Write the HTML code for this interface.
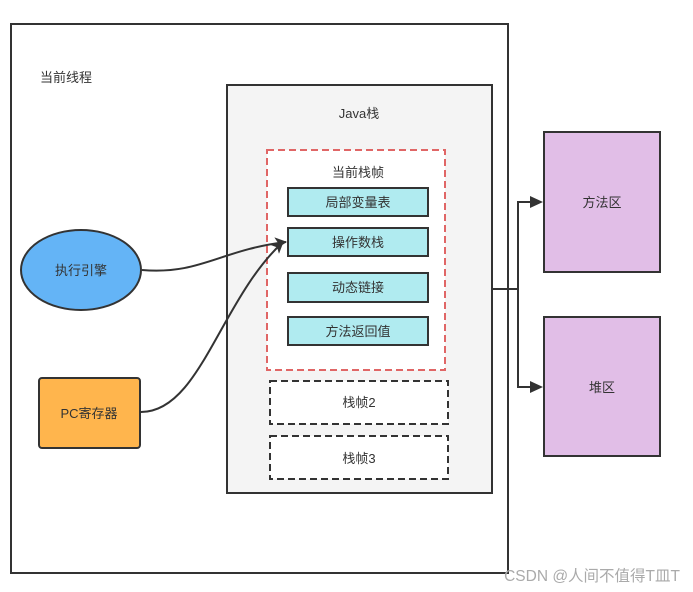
<!DOCTYPE html>
<html><head><meta charset="utf-8"><style>body{margin:0;background:#fff}svg{display:block}text{font-family:"Liberation Sans","Noto Sans CJK SC",sans-serif;font-size:13px;fill:#333}</style></head><body>
<svg width="693" height="592" viewBox="0 0 693 592" xmlns="http://www.w3.org/2000/svg">
<defs><marker id="a" markerWidth="12" markerHeight="12" refX="11" refY="6" orient="auto" markerUnits="userSpaceOnUse"><path d="M0,0 L12,6 L0,12 L3,6 Z" fill="#333"/></marker></defs>
<rect x="11" y="24" width="497" height="549" fill="#fff" stroke="#333" stroke-width="2"/>
<text x="40" y="82">当前线程</text>
<rect x="227" y="85" width="265" height="408" fill="#f4f4f4" stroke="#333" stroke-width="2"/>
<text x="359" y="118" text-anchor="middle">Java栈</text>
<rect x="267" y="150" width="178" height="220" fill="#fff" stroke="#e06666" stroke-width="2" stroke-dasharray="7,4"/>
<text x="358" y="177" text-anchor="middle">当前栈帧</text>
<g fill="#b0ebf0" stroke="#333" stroke-width="2">
<rect x="288" y="188" width="140" height="28"/><rect x="288" y="228" width="140" height="28"/>
<rect x="288" y="273" width="140" height="29"/><rect x="288" y="317" width="140" height="28"/></g>
<text x="358" y="207" text-anchor="middle">局部变量表</text>
<text x="358" y="247" text-anchor="middle">操作数栈</text>
<text x="358" y="292" text-anchor="middle">动态链接</text>
<text x="358" y="336" text-anchor="middle">方法返回值</text>
<g fill="#fff" stroke="#333" stroke-width="2" stroke-dasharray="7,4">
<rect x="270" y="381" width="178" height="43"/><rect x="270" y="436" width="178" height="43"/></g>
<text x="359" y="407" text-anchor="middle">栈帧2</text>
<text x="359" y="463" text-anchor="middle">栈帧3</text>
<ellipse cx="81" cy="270" rx="60" ry="40" fill="#64b4f6" stroke="#333" stroke-width="2"/>
<text x="81" y="275" text-anchor="middle">执行引擎</text>
<rect x="39" y="378" width="101" height="70" rx="3" fill="#ffb54d" stroke="#333" stroke-width="2"/>
<text x="89" y="418" text-anchor="middle">PC寄存器</text>
<path d="M142,270 C200,275 220,250 286,242" fill="none" stroke="#333" stroke-width="2" marker-end="url(#a)"/>
<path d="M141,412 C200,412 220,300 283,242" fill="none" stroke="#333" stroke-width="2" marker-end="url(#a)"/>
<rect x="544" y="132" width="116" height="140" fill="#e1bee7" stroke="#333" stroke-width="2"/>
<rect x="544" y="317" width="116" height="139" fill="#e1bee7" stroke="#333" stroke-width="2"/>
<text x="602" y="207" text-anchor="middle">方法区</text>
<text x="602" y="392" text-anchor="middle">堆区</text>
<path d="M493,289 H518 V202 H540 M518,289 V387 H540" fill="none" stroke="#333" stroke-width="2"/>
<path d="M530,196 L543,202 L530,208 Z M530,381 L543,387 L530,393 Z" fill="#333"/>
<text x="680" y="581" text-anchor="end" style="font-size:15.5px;fill:#aaa">CSDN @人间不值得T皿T</text>
</svg>
</body></html>
